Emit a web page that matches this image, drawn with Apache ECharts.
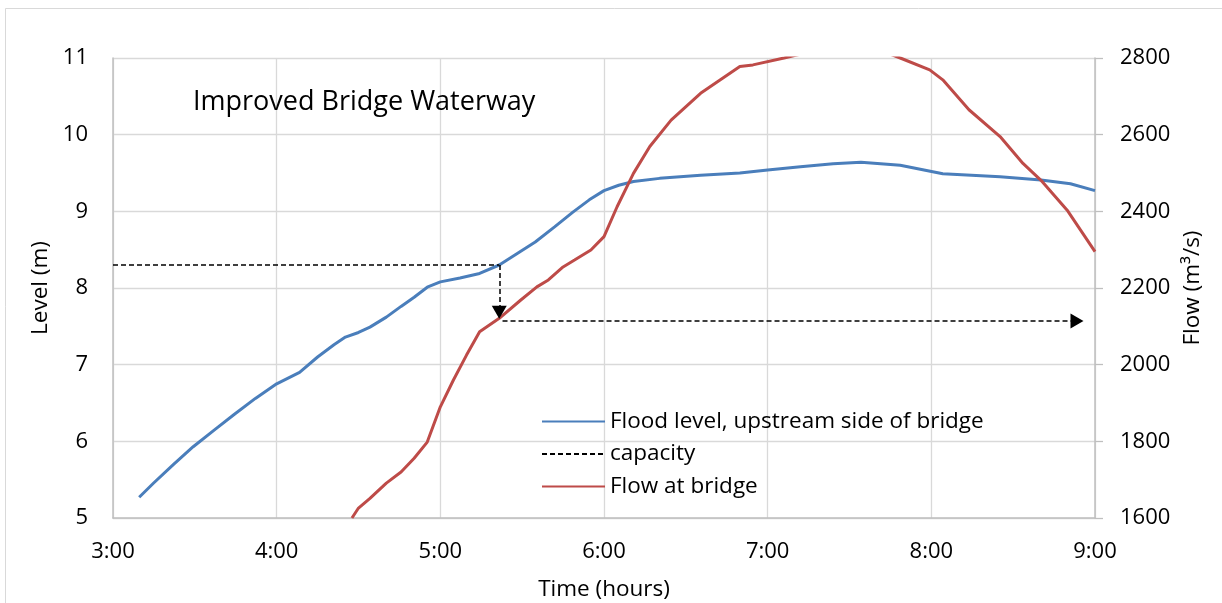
<!DOCTYPE html>
<html>
<head>
<meta charset="utf-8">
<title>Improved Bridge Waterway</title>
<script src="https://cdn.jsdelivr.net/npm/echarts@6/dist/echarts.min.js"></script>
<style>
  html, body { margin: 0; padding: 0; background: #fff; }
  #chart { width: 1222px; height: 603px; }
</style>
</head>
<body>
<div id="chart"></div>
<script>
// Time axis, in decimal hours
const timeTicks = [3, 4, 5, 6, 7, 8, 9];

// Flood level on the upstream side of the bridge (m)
const levelTimes = [3.16, 3.25, 3.37, 3.49, 3.62, 3.74, 3.87, 4.0, 4.14, 4.25, 4.35, 4.42, 4.50, 4.57,
  4.67, 4.76, 4.84, 4.92, 5.0, 5.12, 5.24, 5.36, 5.47, 5.58, 5.70, 5.81, 5.91, 6.0, 6.09, 6.18,
  6.34, 6.59, 6.83, 7.0, 7.20, 7.40, 7.57, 7.81, 8.07, 8.42, 8.67, 8.85, 9.0];
const levelValues = [5.27, 5.46, 5.70, 5.93, 6.15, 6.35, 6.56, 6.75, 6.90, 7.10, 7.26, 7.36, 7.42, 7.49,
  7.62, 7.76, 7.88, 8.01, 8.08, 8.13, 8.19, 8.30, 8.45, 8.60, 8.80, 8.99, 9.15, 9.27, 9.34, 9.39,
  9.43, 9.47, 9.50, 9.54, 9.58, 9.62, 9.64, 9.60, 9.49, 9.45, 9.41, 9.36, 9.27];

// Flow through the bridge (m³/s)
const flowTimes = [4.46, 4.50, 4.57, 4.67, 4.76, 4.84, 4.92, 5.0, 5.08, 5.16, 5.24, 5.36, 5.49, 5.59,
  5.66, 5.75, 5.82, 5.92, 6.0, 6.08, 6.18, 6.28, 6.41, 6.59, 6.83, 6.91, 7.10, 7.30, 7.50, 7.70,
  7.81, 7.99, 8.07, 8.23, 8.42, 8.56, 8.67, 8.83, 9.0];
const flowValues = [1600, 1626, 1651, 1691, 1720, 1756, 1798, 1890, 1960, 2025, 2086, 2121, 2168, 2203,
  2221, 2255, 2273, 2299, 2334, 2412, 2499, 2569, 2638, 2708, 2778, 2782, 2800, 2820, 2830, 2818,
  2800, 2769, 2743, 2665, 2595, 2525, 2481, 2403, 2295];

// Capacity construction: level reached at the capacity time, then the matching flow
const capacityLevel = 8.3;
const capacityTime = 5.36;
const capacityArrowLevel = 7.685;
const capacityFlow = 2114;
const capacityFlowStart = 5.38;
const capacityFlowEnd = 8.89;

const seriesNames = ['Flood level, upstream side of bridge', 'capacity', 'Flow at bridge'];

const pairs = (xs, ys) => xs.map((x, i) => [x, ys[i]]);

const FONT = '"Open Sans", "Liberation Sans", sans-serif';
const GRID_C = '#d9d9d9';
const AXIS_C = '#bfbfbf';

const chart = echarts.init(document.getElementById('chart'), null, { renderer: 'canvas' });

const dashed = { color: '#000', width: 1.5, type: [5, 3] };
const arrowSize = [15, 13];

chart.setOption({
  animation: false,
  backgroundColor: '#fff',
  textStyle: { fontFamily: FONT },
  graphic: [{
    type: 'rect',
    shape: { x: 5.5, y: 8.5, width: 1240, height: 640 },
    style: { fill: 'none', stroke: GRID_C, lineWidth: 1 },
    silent: true, z: -10
  }],
  title: {
    text: 'Improved Bridge Waterway',
    left: 188, top: 84,
    textStyle: { fontFamily: FONT, fontSize: 27, fontWeight: 'normal', color: '#000' }
  },
  grid: { left: 113, right: 127, top: 58, bottom: 85, containLabel: false, outerBoundsMode: 'none' },
  legend: {
    data: seriesNames,
    orient: 'vertical',
    left: 536, top: 405,
    itemWidth: 63, itemHeight: 14, itemGap: 9.5,
    itemStyle: { opacity: 0 },
    textStyle: { fontFamily: FONT, fontSize: 22.5, lineHeight: 22, color: '#000' },
    selectedMode: false
  },
  xAxis: {
    type: 'value',
    min: timeTicks[0], max: timeTicks[timeTicks.length - 1], interval: 1,
    name: 'Time (hours)', nameLocation: 'middle', nameGap: 60,
    nameTextStyle: { fontFamily: FONT, fontSize: 22.5, color: '#000' },
    axisLine: { lineStyle: { color: AXIS_C, width: 1.5 } },
    axisTick: { show: false },
    axisLabel: { margin: 23, fontSize: 22, color: '#000', fontFamily: FONT, formatter: v => v + ':00' },
    splitLine: { show: true, lineStyle: { color: GRID_C, width: 1.3 } }
  },
  yAxis: [{
    type: 'value', min: 5, max: 11, interval: 1, position: 'left',
    name: 'Level (m)', nameLocation: 'middle', nameGap: 59, nameRotate: 90,
    nameTextStyle: { fontFamily: FONT, fontSize: 22.5, color: '#000' },
    axisLine: { show: true, lineStyle: { color: AXIS_C, width: 1.5 } },
    axisTick: { show: false },
    axisLabel: { margin: 25, fontSize: 22, color: '#000', fontFamily: FONT },
    splitLine: { show: true, lineStyle: { color: GRID_C, width: 1.3 } }
  }, {
    type: 'value', min: 1600, max: 2800, interval: 200, position: 'right',
    name: 'Flow (m³/s)', nameLocation: 'middle', nameGap: 79, nameRotate: 90,
    nameTextStyle: { fontFamily: FONT, fontSize: 22.5, color: '#000' },
    axisLine: { show: true, lineStyle: { color: AXIS_C, width: 1.5 } },
    axisTick: { show: true, length: 8, inside: false, lineStyle: { color: AXIS_C, width: 1.3 } },
    axisLabel: { margin: 25, fontSize: 22, color: '#000', fontFamily: FONT, formatter: v => String(v) },
    splitLine: { show: false }
  }],
  series: [{
    name: seriesNames[0],
    type: 'line', yAxisIndex: 0,
    data: pairs(levelTimes, levelValues),
    showSymbol: false, symbol: 'none', smooth: false,
    lineStyle: { color: '#4a7ebb', width: 3 },
    itemStyle: { color: '#4a7ebb' },
    z: 3
  }, {
    name: seriesNames[1],
    type: 'line', yAxisIndex: 0,
    data: [],
    symbol: 'none',
    lineStyle: dashed,
    itemStyle: { color: '#000' },
    markLine: {
      silent: true, animation: false,
      label: { show: false },
      lineStyle: dashed,
      symbolSize: arrowSize,
      data: [
        [{ coord: [timeTicks[0], capacityLevel], symbol: 'none' },
         { coord: [capacityTime, capacityLevel], symbol: 'none' }],
        [{ coord: [capacityTime, capacityLevel], symbol: 'none' },
         { coord: [capacityTime, capacityArrowLevel], symbol: 'triangle' }]
      ]
    },
    z: 4
  }, {
    name: seriesNames[1],
    type: 'line', yAxisIndex: 1,
    data: [],
    symbol: 'none',
    lineStyle: dashed,
    itemStyle: { color: '#000' },
    markLine: {
      silent: true, animation: false,
      label: { show: false },
      lineStyle: dashed,
      symbolSize: arrowSize,
      data: [
        [{ coord: [capacityFlowStart, capacityFlow], symbol: 'none' },
         { coord: [capacityFlowEnd, capacityFlow], symbol: 'triangle' }]
      ]
    },
    z: 4
  }, {
    name: seriesNames[2],
    type: 'line', yAxisIndex: 1,
    data: pairs(flowTimes, flowValues),
    showSymbol: false, symbol: 'none', smooth: false, clip: true,
    lineStyle: { color: '#be4b48', width: 3 },
    itemStyle: { color: '#be4b48' },
    z: 3
  }]
});
</script>
</body>
</html>
